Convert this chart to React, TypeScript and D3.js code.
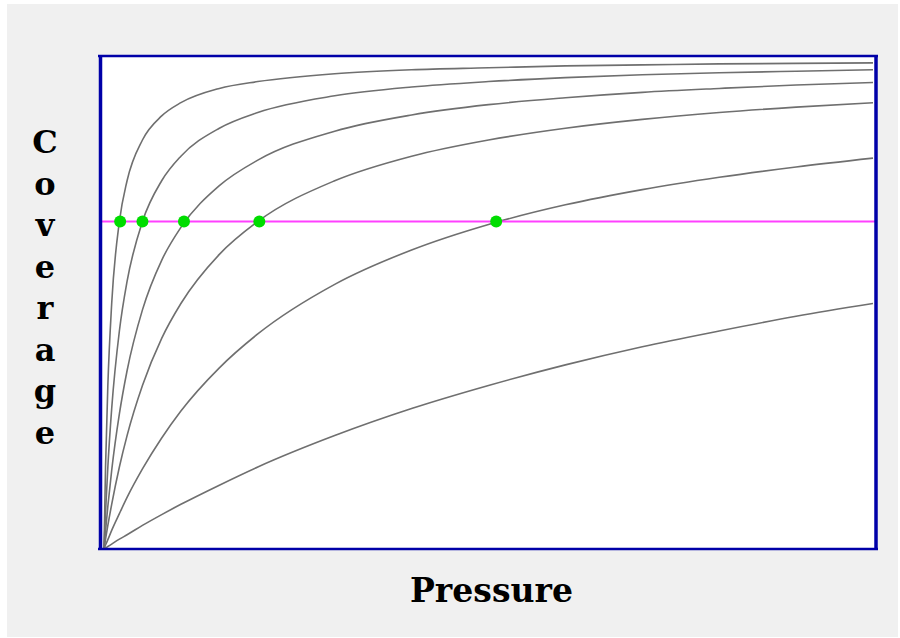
import { useEffect, useRef } from "react";
import { select, scaleLinear, line, curveMonotoneX } from "d3";

// pressure samples shared by every isotherm
const pressures = [0, 0.02, 0.05, 0.1, 0.2, 0.3, 0.5, 0.75, 1, 1.5, 2, 3, 4, 5, 6, 7, 8, 9, 10];

// coverage, steepest first
const curveA = [0, 0.167, 0.333, 0.5, 0.667, 0.75, 0.833, 0.882, 0.909, 0.938, 0.952, 0.968, 0.976, 0.98, 0.984, 0.986, 0.988, 0.989, 0.99];
const curveB = [0, 0.074, 0.167, 0.286, 0.444, 0.545, 0.667, 0.75, 0.8, 0.857, 0.889, 0.923, 0.941, 0.952, 0.96, 0.966, 0.97, 0.973, 0.976];
const curveC = [0, 0.037, 0.087, 0.16, 0.275, 0.363, 0.487, 0.588, 0.655, 0.74, 0.792, 0.851, 0.884, 0.905, 0.919, 0.93, 0.938, 0.945, 0.95];
const curveD = [0, 0.02, 0.048, 0.091, 0.167, 0.231, 0.333, 0.429, 0.5, 0.6, 0.667, 0.75, 0.8, 0.833, 0.857, 0.875, 0.889, 0.9, 0.909];
const curveE = [0, 0.008, 0.019, 0.038, 0.072, 0.105, 0.163, 0.226, 0.281, 0.369, 0.438, 0.539, 0.609, 0.661, 0.701, 0.732, 0.757, 0.778, 0.796];
const curveF = [0, 0.002, 0.005, 0.01, 0.02, 0.029, 0.048, 0.07, 0.091, 0.13, 0.167, 0.231, 0.286, 0.333, 0.375, 0.412, 0.444, 0.474, 0.5];
const curves = [curveA, curveB, curveC, curveD, curveE, curveF];

// the reference coverage level and where each curve crosses it
const markLevel = 0.667;
const markPressures = [0.21, 0.5, 1.04, 2.02, 5.1];

const yLabel = "Coverage";
const xLabel = "Pressure";

function App() {
  const svgRef = useRef<SVGSVGElement>(null);

  useEffect(() => {
    const Width = 900;
    const Height = 638;
    const plot = { left: 99, right: 877, top: 55, bottom: 549 };

    const svg = select(svgRef.current).attr("width", Width).attr("height", Height);
    svg.selectAll("*").remove();

    // panel background
    svg
      .append("rect")
      .attr("x", 7)
      .attr("y", 4)
      .attr("width", 891)
      .attr("height", 633)
      .attr("fill", "#f0f0f0");

    svg
      .append("rect")
      .attr("x", plot.left)
      .attr("y", plot.top)
      .attr("width", plot.right - plot.left)
      .attr("height", plot.bottom - plot.top)
      .attr("fill", "#ffffff");

    const xScale = scaleLinear().domain([0, 10]).range([104, 873]);
    const yScale = scaleLinear().domain([0, 1]).range([549, 58]);

    svg
      .append("defs")
      .append("clipPath")
      .attr("id", "plotClip")
      .append("rect")
      .attr("x", plot.left + 2)
      .attr("y", plot.top + 1)
      .attr("width", plot.right - plot.left - 3)
      .attr("height", plot.bottom - plot.top - 1);

    const content = svg.append("g").attr("clip-path", "url(#plotClip)");

    const lineGen = line<number>()
      .x((d, i) => xScale(pressures[i]))
      .y((d) => yScale(d))
      .curve(curveMonotoneX);

    content
      .selectAll(".isotherm")
      .data(curves)
      .join("path")
      .attr("class", "isotherm")
      .attr("d", (d) => lineGen(d))
      .attr("fill", "none")
      .attr("stroke", "#6f6f6f")
      .attr("stroke-width", 1.6);

    // horizontal coverage marker
    content
      .append("line")
      .attr("x1", plot.left)
      .attr("x2", plot.right)
      .attr("y1", yScale(markLevel))
      .attr("y2", yScale(markLevel))
      .attr("stroke", "#ff40ff")
      .attr("stroke-width", 2);

    content
      .selectAll(".mark")
      .data(markPressures)
      .join("circle")
      .attr("class", "mark")
      .attr("cx", (d) => xScale(d))
      .attr("cy", yScale(markLevel))
      .attr("r", 6)
      .attr("fill", "#00dd00");

    // frame: sides are heavier than top and bottom
    const frameColor = "#0000a8";
    svg.append("line").attr("x1", plot.left - 1).attr("x2", plot.right + 1).attr("y1", plot.top + 1).attr("y2", plot.top + 1).attr("stroke", frameColor).attr("stroke-width", 2.5);
    svg.append("line").attr("x1", plot.left - 1).attr("x2", plot.right + 1).attr("y1", plot.bottom).attr("y2", plot.bottom).attr("stroke", frameColor).attr("stroke-width", 2.5);
    svg.append("line").attr("x1", plot.left + 1.5).attr("x2", plot.left + 1.5).attr("y1", plot.top).attr("y2", plot.bottom + 1).attr("stroke", frameColor).attr("stroke-width", 3.5);
    svg.append("line").attr("x1", plot.right - 1).attr("x2", plot.right - 1).attr("y1", plot.top).attr("y2", plot.bottom + 1).attr("stroke", frameColor).attr("stroke-width", 3.5);

    // axis labels
    svg
      .append("text")
      .attr("x", 410)
      .attr("y", 602)
      .attr("textLength", 163)
      .attr("lengthAdjust", "spacingAndGlyphs")
      .attr("font-family", "DejaVu Serif")
      .attr("font-weight", "bold")
      .attr("font-size", 34)
      .attr("fill", "#000")
      .text(xLabel);

    svg
      .selectAll(".yLetter")
      .data(yLabel.split(""))
      .join("text")
      .attr("class", "yLetter")
      .attr("x", 45)
      .attr("y", (d, i) => 153 + i * 41.5)
      .attr("text-anchor", "middle")
      .attr("font-family", "DejaVu Serif")
      .attr("font-weight", "bold")
      .attr("font-size", 32)
      .attr("fill", "#000")
      .text((d) => d);
  }, []);

  return (
    <div style={{ position: "absolute", left: 0, top: 0 }}>
      <svg ref={svgRef} style={{ display: "block" }}></svg>
    </div>
  );
}

export default App;
